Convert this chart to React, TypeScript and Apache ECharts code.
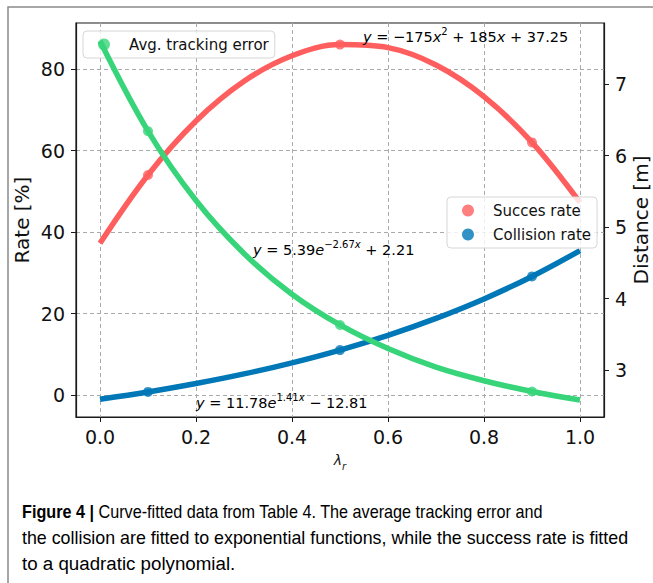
import React, { useEffect, useRef } from "react";
import * as echarts from "echarts";

// fitted curves (lambda_r = 0 .. 1)
const lambdaFit = [0, 0.1, 0.2, 0.3, 0.4, 0.5, 0.6, 0.7, 0.8, 0.9, 1.0];
const successFit = [37.25, 54.0, 67.25, 77.0, 83.25, 86.0, 85.25, 81.0, 73.25, 62.0, 47.25];
const collisionFit = [-1.03, 0.75, 2.81, 5.17, 7.9, 11.03, 14.64, 18.8, 23.58, 29.1, 35.44];
const trackingFit = [7.6, 6.34, 5.37, 4.63, 4.06, 3.63, 3.3, 3.04, 2.85, 2.7, 2.58];

// observed points (Table 4)
const lambdaObs = [0.1, 0.5, 0.9];
const successObs = [54.0, 86.0, 62.0];
const collisionObs = [0.75, 11.03, 29.1];
const trackingObs = [6.34, 3.63, 2.7];

const xTicks = [0, 0.2, 0.4, 0.6, 0.8, 1.0];
const rateTicks = [0, 20, 40, 60, 80];
const distTicks = [3, 4, 5, 6, 7];

const RED = "#ff5e5e";
const BLUE = "#0077b6";
const GREEN = "#38d47a";
const AX = "#1a1a1a";
const FONT = "DejaVu Sans";

const pairs = (xs: number[], ys: number[]) => xs.map((x, i) => [x, ys[i]]);

const eqRich = {
  i: { fontFamily: FONT, fontSize: 14.5, fontStyle: "italic", lineHeight: 18, verticalAlign: "bottom", color: AX },
  m: { fontFamily: FONT, fontSize: 14.5, lineHeight: 18, verticalAlign: "bottom", color: AX },
  s: { fontFamily: FONT, fontSize: 10, lineHeight: 12, verticalAlign: "top", color: AX },
  si: { fontFamily: FONT, fontSize: 10, fontStyle: "italic", lineHeight: 12, verticalAlign: "top", color: AX },
};

const capRich = {
  b: { fontFamily: "Liberation Sans", fontSize: 18, fontWeight: "bold", color: "#222" },
  n: { fontFamily: "Liberation Sans", fontSize: 18, color: "#222" },
};

export default function App() {
  const ref = useRef<HTMLDivElement>(null);
  useEffect(() => {
    document.body.style.margin = "0";
    const chart = echarts.init(ref.current!, null, { renderer: "svg" });
    const axisCommon = {
      axisLine: { show: true, onZero: false, lineStyle: { color: AX, width: 1.2 } },
      axisTick: { show: true, inside: false, length: 5, lineStyle: { color: AX, width: 1 } },
    };
    const legendCommon = {
      icon: "circle",
      itemWidth: 12,
      itemHeight: 12,
      padding: [5, 6, 5, 15],
      backgroundColor: "rgba(255,255,255,0.8)",
      borderColor: "#d6d6d6",
      borderWidth: 1,
      borderRadius: 4,
      selectedMode: false,
      textStyle: { fontFamily: FONT, fontSize: 15, color: "#111", lineHeight: 17, padding: [0, 0, 0, 14] },
    };
    chart.setOption({
      animation: false,
      backgroundColor: "#fff",
      grid: {
        left: 76,
        top: 23,
        width: 528,
        height: 394,
        show: true,
        borderColor: AX,
        borderWidth: 1.2,
        backgroundColor: "transparent",
        outerBoundsMode: "none",
        containLabel: false,
      },
      xAxis: {
        type: "value",
        min: -0.05,
        max: 1.05,
        ...axisCommon,
        axisTick: { ...axisCommon.axisTick, customValues: xTicks },
        axisLabel: {
          customValues: xTicks,
          formatter: (v: number) => v.toFixed(1),
          fontFamily: FONT,
          fontSize: 19,
          color: "#111",
          margin: 10,
        },
        splitLine: { show: true, lineStyle: { color: "#aaa", type: [4, 3], width: 1 } },
        name: "{l|λ}{r|r}",
        nameLocation: "middle",
        nameGap: 36,
        nameMoveOverlap: false,
        nameTextStyle: {
          rich: {
            l: { fontFamily: FONT, fontSize: 14, fontStyle: "italic", color: AX, lineHeight: 18, verticalAlign: "top" },
            r: { fontFamily: FONT, fontSize: 10, fontStyle: "italic", color: AX, lineHeight: 12, verticalAlign: "bottom" },
          },
        },
      },
      yAxis: [
        {
          type: "value",
          position: "left",
          min: -5.4,
          max: 91.3,
          ...axisCommon,
          axisTick: { ...axisCommon.axisTick, customValues: rateTicks },
          axisLabel: { customValues: rateTicks, fontFamily: FONT, fontSize: 19, color: "#111", margin: 11 },
          splitLine: { show: true, lineStyle: { color: "#aaa", type: [4, 3], width: 1 } },
          name: "Rate [%]",
          nameLocation: "middle",
          nameGap: 44,
          nameMoveOverlap: false,
          nameTextStyle: { fontFamily: FONT, fontSize: 20, color: "#111", lineHeight: 20 },
        },
        {
          type: "value",
          position: "right",
          min: 2.343,
          max: 7.853,
          ...axisCommon,
          axisTick: { ...axisCommon.axisTick, customValues: distTicks },
          axisLabel: { customValues: distTicks, fontFamily: FONT, fontSize: 19, color: "#111", margin: 11 },
          splitLine: { show: false },
          name: "Distance [m]",
          nameLocation: "middle",
          nameGap: 27,
          nameMoveOverlap: false,
          nameTextStyle: { fontFamily: FONT, fontSize: 20, color: "#111", lineHeight: 20 },
        },
      ],
      legend: [
        {
          ...legendCommon,
          data: ["Avg. tracking error"],
          left: 83,
          top: 31,
        },
        {
          ...legendCommon,
          data: ["Succes rate", "Collision rate"],
          left: 447,
          top: 197,
          orient: "vertical",
          itemGap: 7,
        },
      ],
      series: [
        {
          name: "Succes rate fit",
          type: "line",
          yAxisIndex: 0,
          data: pairs(lambdaFit, successFit),
          smooth: 0.35,
          symbol: "none",
          lineStyle: { color: RED, width: 5.5 },
          itemStyle: { color: RED },
          z: 2,
        },
        {
          name: "Succes rate",
          type: "scatter",
          yAxisIndex: 0,
          data: pairs(lambdaObs, successObs),
          symbolSize: 10,
          itemStyle: { color: RED },
          z: 3,
        },
        {
          name: "Collision rate fit",
          type: "line",
          yAxisIndex: 0,
          data: pairs(lambdaFit, collisionFit),
          smooth: 0.35,
          symbol: "none",
          lineStyle: { color: BLUE, width: 5.5 },
          itemStyle: { color: BLUE },
          z: 2,
        },
        {
          name: "Collision rate",
          type: "scatter",
          yAxisIndex: 0,
          data: pairs(lambdaObs, collisionObs),
          symbolSize: 10,
          itemStyle: { color: BLUE },
          z: 3,
        },
        {
          name: "Avg. tracking error fit",
          type: "line",
          yAxisIndex: 1,
          data: pairs(lambdaFit, trackingFit),
          smooth: 0.35,
          symbol: "none",
          lineStyle: { color: GREEN, width: 5.5 },
          itemStyle: { color: GREEN },
          z: 4,
        },
        {
          name: "Avg. tracking error",
          type: "scatter",
          yAxisIndex: 1,
          data: pairs(lambdaObs, trackingObs),
          symbolSize: 10,
          itemStyle: { color: GREEN },
          z: 5,
        },
      ],
      graphic: [
        {
          type: "rect",
          silent: true,
          shape: { x: 8, y: 7, width: 700, height: 700 },
          style: { fill: "none", stroke: "#8a8a8a", lineWidth: 1.5 },
          z: -1,
        },
        {
          type: "text",
          x: 363,
          y: 26,
          style: {
            text: "{i|y}{m| = −175}{i|x}{s|2}{m| + 185}{i|x}{m| + 37.25}",
            rich: eqRich,
          },
          z: 10,
        },
        {
          type: "text",
          x: 253,
          y: 239,
          style: {
            text: "{i|y}{m| = 5.39}{i|e}{s|−2.67}{si|x}{m| + 2.21}",
            rich: eqRich,
          },
          z: 10,
        },
        {
          type: "text",
          x: 196,
          y: 392,
          style: {
            text: "{i|y}{m| = 11.78}{i|e}{s|1.41}{si|x}{m| − 12.81}",
            rich: eqRich,
          },
          z: 10,
        },
        {
          type: "text",
          x: 22,
          y: 503,
          scaleX: 0.9,
          style: {
            text: "{b|Figure 4 |}{n| Curve-fitted data from Table 4. The average tracking error and}",
            rich: capRich,
          },
        },
        {
          type: "text",
          x: 22,
          y: 529,
          scaleX: 0.99,
          style: {
            text: "{n|the collision are fitted to exponential functions, while the success rate is fitted}",
            rich: capRich,
          },
        },
        {
          type: "text",
          x: 22,
          y: 555,
          scaleX: 1.04,
          style: {
            text: "{n|to a quadratic polynomial.}",
            rich: capRich,
          },
        },
      ],
    });
    return () => chart.dispose();
  }, []);
  return <div ref={ref} style={{ width: 653, height: 583 }} />;
}
